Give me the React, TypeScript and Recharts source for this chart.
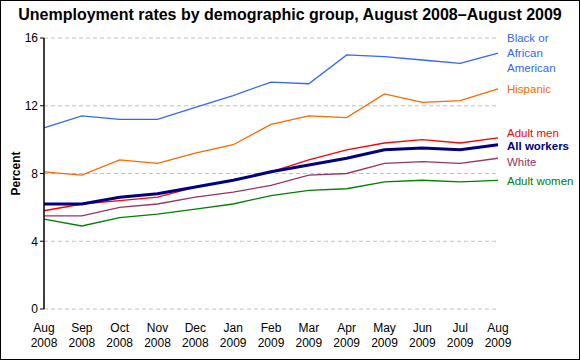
import { LineChart, Line, XAxis, YAxis, CartesianGrid } from 'recharts';

const months = ['Aug', 'Sep', 'Oct', 'Nov', 'Dec', 'Jan', 'Feb', 'Mar', 'Apr', 'May', 'Jun', 'Jul', 'Aug'];
const years = ['2008', '2008', '2008', '2008', '2008', '2009', '2009', '2009', '2009', '2009', '2009', '2009', '2009'];

const black = [10.7, 11.4, 11.2, 11.2, 11.9, 12.6, 13.4, 13.3, 15.0, 14.9, 14.7, 14.5, 15.1];
const hispanic = [8.1, 7.9, 8.8, 8.6, 9.2, 9.7, 10.9, 11.4, 11.3, 12.7, 12.2, 12.3, 13.0];
const adultMen = [5.8, 6.2, 6.4, 6.6, 7.2, 7.6, 8.1, 8.8, 9.4, 9.8, 10.0, 9.8, 10.1];
const allWorkers = [6.2, 6.2, 6.6, 6.8, 7.2, 7.6, 8.1, 8.5, 8.9, 9.4, 9.5, 9.4, 9.7];
const white = [5.5, 5.5, 6.0, 6.2, 6.6, 6.9, 7.3, 7.9, 8.0, 8.6, 8.7, 8.6, 8.9];
const adultWomen = [5.3, 4.9, 5.4, 5.6, 5.9, 6.2, 6.7, 7.0, 7.1, 7.5, 7.6, 7.5, 7.6];

const yTicks = [0, 4, 8, 12, 16];

const data = months.map((m, i) => ({
  key: i,
  month: m,
  year: years[i],
  black: black[i],
  hispanic: hispanic[i],
  adultMen: adultMen[i],
  allWorkers: allWorkers[i],
  white: white[i],
  adultWomen: adultWomen[i],
}));

const FONT = '"Liberation Sans", Arial, sans-serif';

const series = [
  { key: 'black', lines: ['Black or', 'African', 'American'], color: '#3366ff', width: 1.3, bold: false, dy: 0 },
  { key: 'hispanic', lines: ['Hispanic'], color: '#ff6600', width: 1.3, bold: false, dy: 0 },
  { key: 'adultMen', lines: ['Adult men'], color: '#ff0000', width: 1.3, bold: false, dy: -5 },
  { key: 'white', lines: ['White'], color: '#993366', width: 1.3, bold: false, dy: 4 },
  { key: 'adultWomen', lines: ['Adult women'], color: '#008000', width: 1.3, bold: false, dy: 1 },
  { key: 'allWorkers', lines: ['All workers'], color: '#000080', width: 3, bold: true, dy: 1 },
];

const XTick = ({ x, y, payload }: any) => {
  const i = payload.value;
  return (
    <text x={x} textAnchor="middle" fontSize={12} fontFamily={FONT} fill="#000">
      <tspan x={x} y={y + 23}>{months[i]}</tspan>
      <tspan x={x} y={y + 38}>{years[i]}</tspan>
    </text>
  );
};

const makeLabel = (s: typeof series[number]) => (props: any) => {
  const { x, y, index } = props;
  if (index !== data.length - 1) return null;
  const n = s.lines.length;
  return (
    <text
      x={x + 9}
      fontSize={11.5}
      fontFamily={FONT}
      fontWeight={s.bold ? 'bold' : 'normal'}
      fill={s.color}
    >
      {s.lines.map((t, k) => (
        <tspan key={k} x={x + 9} y={y + s.dy + 4 + (k - (n - 1) / 2) * 15}>
          {t}
        </tspan>
      ))}
    </text>
  );
};

export default function App() {
  return (
    <div
      style={{
        position: 'absolute',
        left: 0,
        top: 0,
        width: 580,
        height: 360,
        boxSizing: 'border-box',
        border: '1px solid #000',
        background: '#fff',
      }}
    >
      <div
        style={{
          position: 'absolute',
          left: 0,
          top: 5,
          width: 578,
          textAlign: 'center',
          fontFamily: FONT,
          fontWeight: 'bold',
          fontSize: 16,
          color: '#000',
        }}
      >
        Unemployment rates by demographic group, August 2008–August 2009
      </div>
      <LineChart width={578} height={358} data={data} margin={{ top: 37, right: 81, bottom: 0, left: 0 }}>
        <CartesianGrid vertical={false} stroke="#c0c0c0" strokeDasharray="4 3" />
        <XAxis
          dataKey="key"
          type="category"
          axisLine={false}
          tickLine={false}
          tickSize={0}
          tickMargin={0}
          interval={0}
          height={50}
          tick={<XTick />}
        />
        <YAxis
          domain={[0, 16]}
          ticks={yTicks}
          width={43}
          axisLine={{ stroke: '#000', strokeWidth: 1.5 }}
          tickLine={{ stroke: '#000' }}
          tickSize={4}
          tick={{ fontSize: 12, fill: '#000', fontFamily: FONT }}
          label={(props: any) => {
            const vb = props.viewBox;
            const cx = vb.x + 19;
            const cy = vb.y + vb.height / 2;
            return (
              <text
                x={cx}
                y={cy}
                transform={`rotate(-90 ${cx} ${cy})`}
                textAnchor="middle"
                fontSize={12}
                fontWeight="bold"
                fontFamily={FONT}
                fill="#000"
              >
                Percent
              </text>
            );
          }}
        />
        {series.map((s) => (
          <Line
            key={s.key}
            type="linear"
            dataKey={s.key}
            stroke={s.color}
            strokeWidth={s.width}
            dot={false}
            activeDot={false}
            isAnimationActive={false}
            label={makeLabel(s)}
          />
        ))}
      </LineChart>
    </div>
  );
}
